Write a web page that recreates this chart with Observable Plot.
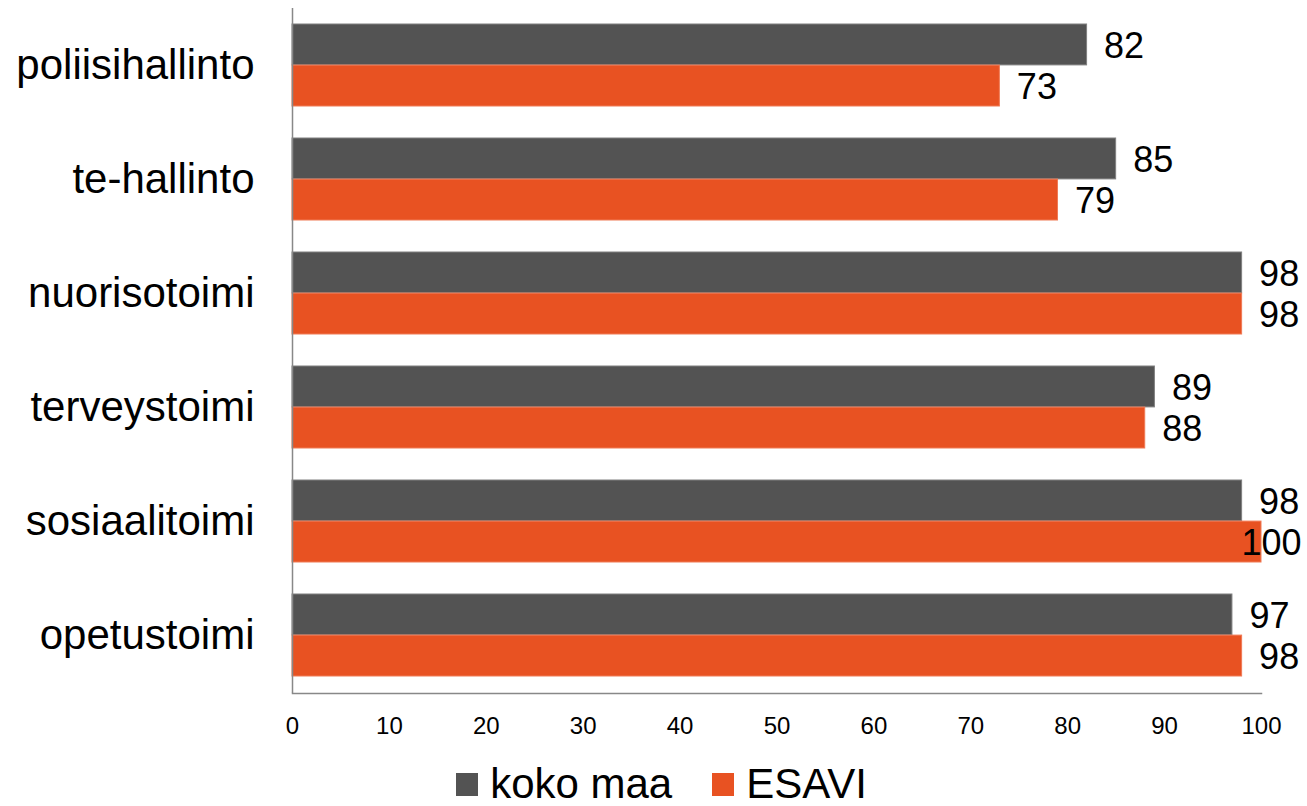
<!DOCTYPE html>
<html><head><meta charset="utf-8">
<script src="https://cdn.jsdelivr.net/npm/d3@7"></script>
<script src="https://cdn.jsdelivr.net/npm/@observablehq/plot@0.6"></script>
<style>
body{margin:0;background:#fff;font-family:"Liberation Sans",Arial,sans-serif;overflow:hidden;}
#legend{display:flex;justify-content:center;align-items:center;margin-top:17px;font-size:42px;line-height:42px;height:42px;padding-left:16px;color:#000;}
.item{display:flex;align-items:center;margin:0 20px;}
.sw{width:22px;height:23px;margin-right:12px;}
</style></head><body>
<div id="chart"></div>
<div id="legend"></div>
<script>
const categories = ["poliisihallinto","te-hallinto","nuorisotoimi","terveystoimi","sosiaalitoimi","opetustoimi"];
const series = ["koko maa","ESAVI"];
const kokoMaa = [82,85,98,89,98,97];
const esavi = [73,79,98,88,100,98];
const colors = ["#535353","#E85222"];
const xTicks = [0,10,20,30,40,50,60,70,80,90,100];

const W = 1307, H = 746, mt = 8, mb = H - 693, ml = 292, mr = W - 1261;
const pInner = 0.28, pOuter = 0.14;
const bw = (H - mt - mb) / categories.length * (1 - pInner);

const gray = categories.map((c,i)=>({category:c, value:kokoMaa[i]}));
const orange = categories.map((c,i)=>({category:c, value:esavi[i]}));

const labelMarks = (data, dy) => [
  Plot.text(data.filter(d=>d.value<100), {x:"value", y:"category", text:d=>String(d.value), dx:17, dy, textAnchor:"start", fontSize:36, fill:"#000"}),
  Plot.text(data.filter(d=>d.value>=100), {x:"value", y:"category", text:d=>String(d.value), dx:40, dy, textAnchor:"end", fontSize:36, fill:"#000"})
];

const chart = Plot.plot({
  width: W, height: H,
  marginTop: mt, marginBottom: mb, marginLeft: ml, marginRight: mr,
  style: {fontFamily: '"Liberation Sans", Arial, sans-serif', background: "#fff", color:"#000"},
  x: {domain:[0,100], ticks: xTicks},
  y: {domain: categories, paddingInner: pInner, paddingOuter: pOuter, label:null},
  marks: [
    Plot.barX(gray, {x:"value", y:"category", fill:colors[0], stroke:"#808080", strokeWidth:1, insetBottom: bw/2}),
    Plot.barX(orange, {x:"value", y:"category", fill:colors[1], stroke:"#F07A55", strokeWidth:1, insetTop: bw/2}),
    ...labelMarks(gray, -bw/4 + 1.5),
    ...labelMarks(orange, bw/4 + 1.5),
    Plot.ruleX([0], {stroke:"#888", strokeWidth:1.5}),
    Plot.frame({anchor:"bottom", stroke:"#888", strokeWidth:1.5}),
    Plot.axisX({ticks: xTicks, tickSize:0, tickPadding:23, fontSize:24, label:null, fill:"#000"}),
    Plot.axisY({tickSize:0, tickPadding:38, fontSize:42, label:null, fill:"#000"})
  ]
});
document.getElementById("chart").appendChild(chart);

const legend = document.getElementById("legend");
series.forEach((s,i)=>{
  const it = document.createElement("div"); it.className="item";
  const sw = document.createElement("div"); sw.className="sw"; sw.style.background=colors[i];
  const tx = document.createElement("span"); tx.textContent=s;
  it.appendChild(sw); it.appendChild(tx); legend.appendChild(it);
});
</script>
</body></html>
